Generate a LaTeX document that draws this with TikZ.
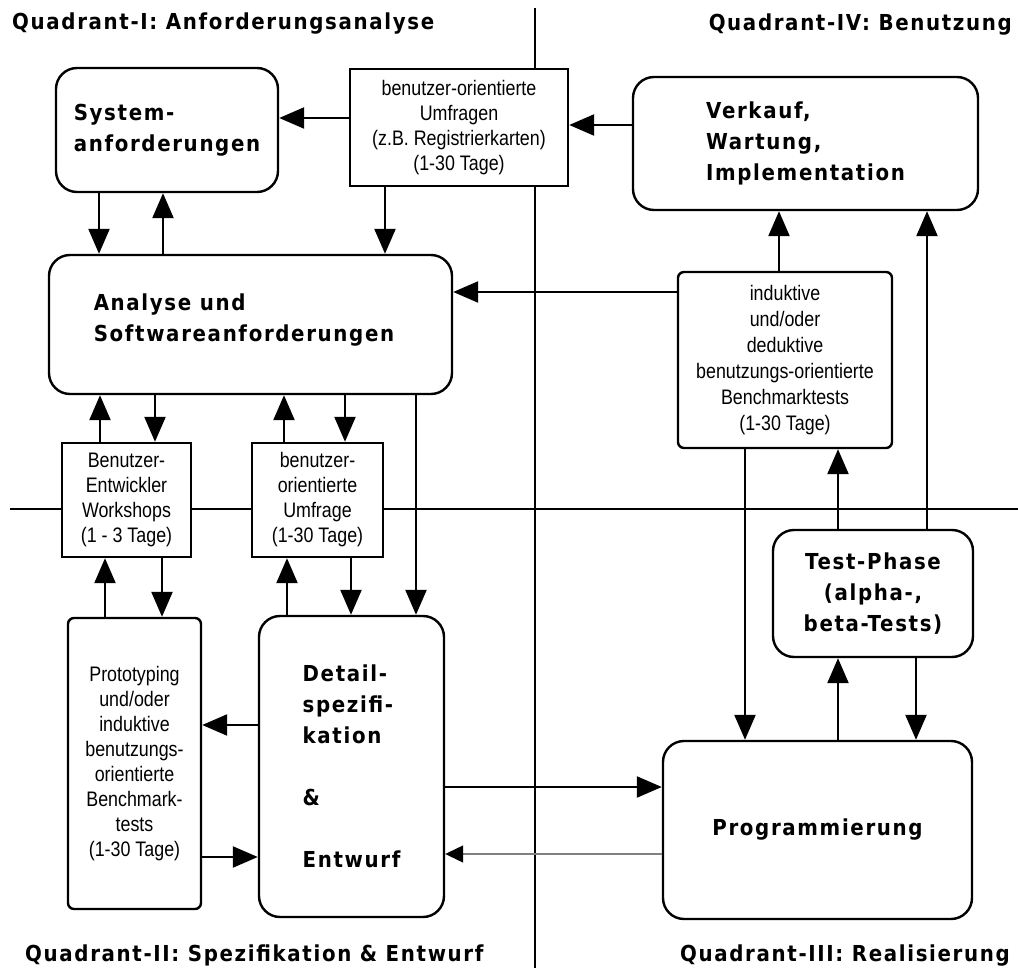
\documentclass[tikz,border=0pt]{standalone}
\usepackage{fontspec}
\setmainfont{Liberation Sans}
\newfontfamily\chic[LetterSpace=7.5,FakeStretch=0.9]{DejaVu Sans}
\newfontfamily\helv[FakeStretch=0.85]{Liberation Sans}
\usetikzlibrary{arrows.meta}
\tikzset{
  box/.style={draw, line width=2.4pt, fill=white, inner sep=0pt},
  rbox/.style={box, rounded corners=21pt},
  sbox/.style={box, rounded corners=6pt},
  btxt/.style={font=\chic\bfseries\fontsize{22}{31}\selectfont, align=left},
  stxt/.style={font=\helv\fontsize{21}{25}\selectfont, align=center},
  qtitle/.style={font=\chic\bfseries\fontsize{22}{31}\selectfont, inner sep=0pt},
  arr/.style={line width=2.4pt, -{Triangle[length=25pt,width=21pt]}},
  garr/.style={line width=1.2pt, draw=gray, -{Triangle[length=18pt,width=17pt,black]}},
  divider/.style={line width=2.4pt},
}
\begin{document}
\begin{tikzpicture}[x=1pt,y=-1pt]
\useasboundingbox (0,0) rectangle (1018,968);
\fill[white] (0,0) rectangle (1018,968);
% quadrant dividers
\draw[divider] (535,8) -- (535,968);
\draw[divider] (10,509) -- (1018,509);
% titles
\node[qtitle, anchor=base west] (q1) at (12,30) {Quadrant-I: Anforderungsanalyse};
\node[qtitle, anchor=base east] (q4) at (1012,31) {Quadrant-IV: Benutzung};
\node[qtitle, anchor=base west] (q2) at (25,961) {Quadrant-II: Spezifikation \& Entwurf};
\node[qtitle, anchor=base east] (q3) at (1010,961) {Quadrant-III: Realisierung};
% boxes
\node[rbox, btxt, minimum width=222pt, minimum height=124pt] (sys) at (167,130) {System-\\anforderungen};
\node[box, stxt, minimum width=218pt, minimum height=117pt] (umf) at (459,127.5) {benutzer-orientierte\\Umfragen\\(z.B. Registrierkarten)\\(1-30 Tage)};
\node[rbox, btxt, minimum width=345pt, minimum height=133pt] (verk) at (805.5,143.5) {Verkauf,\\Wartung,\\Implementation};
\node[rbox, minimum width=403pt, minimum height=139pt] (ana) at (250.5,324.5) {};
\node[btxt, inner sep=0pt] (anat) at (244,320) {Analyse und\\Softwareanforderungen};
\node[sbox, stxt, font=\helv\fontsize{21}{26}\selectfont, minimum width=214pt, minimum height=176pt] (ind) at (785,360) {induktive\\und/oder\\deduktive\\benutzungs-orientierte\\Benchmarktests\\(1-30 Tage)};
\node[box, stxt, minimum width=129pt, minimum height=114pt] (bew) at (126.5,500) {Benutzer-\\Entwickler\\Workshops\\(1 - 3 Tage)};
\node[box, stxt, minimum width=131pt, minimum height=114pt] (bou) at (317.5,500) {benutzer-\\orientierte\\Umfrage\\(1-30 Tage)};
\node[sbox, stxt, minimum width=133pt, minimum height=291pt] (proto) at (134.5,763.5) {Prototyping\\und/oder\\induktive\\benutzungs-\\orientierte\\Benchmark-\\tests\\(1-30 Tage)};
\node[rbox, btxt, minimum width=185pt, minimum height=301pt] (det) at (351.5,766.5) {Detail-\\spezifi-\\kation\\[31pt]\&\\[31pt]Entwurf};
\node[rbox, btxt, align=center, minimum width=200pt, minimum height=127pt] (test) at (873,593.5) {Test-Phase\\(alpha-,\\beta-Tests)};
\node[rbox, btxt, minimum width=309pt, minimum height=178pt] (prog) at (817.5,830) {Programmierung};
% connectors
\draw[arr] (umf.west |- 0,118) -- (sys.east |- 0,118);
\draw[arr] (verk.west |- 0,125) -- (umf.east |- 0,125);
\draw[arr] (sys.south -| 99,0) -- (ana.north -| 99,0);
\draw[arr] (ana.north -| 163,0) -- (sys.south -| 163,0);
\draw[arr] (umf.south -| 385,0) -- (ana.north -| 385,0);
\draw[arr] (ind.west |- 0,292) -- (ana.east |- 0,292);
\draw[arr] (ind.north -| 779,0) -- (verk.south -| 779,0);
\draw[arr] (test.north -| 927,0) -- (verk.south -| 927,0);
\draw[arr] (test.north -| 838,0) -- (ind.south -| 838,0);
\draw[arr] (ind.south -| 745,0) -- (prog.north -| 745,0);
\draw[arr] (prog.north -| 838,0) -- (test.south -| 838,0);
\draw[arr] (test.south -| 916,0) -- (prog.north -| 916,0);
\draw[arr] (bew.north -| 100,0) -- (ana.south -| 100,0);
\draw[arr] (ana.south -| 155,0) -- (bew.north -| 155,0);
\draw[arr] (bou.north -| 284,0) -- (ana.south -| 284,0);
\draw[arr] (ana.south -| 345,0) -- (bou.north -| 345,0);
\draw[arr] (ana.south -| 416,0) -- (det.north -| 416,0);
\draw[arr] (proto.north -| 105,0) -- (bew.south -| 105,0);
\draw[arr] (bew.south -| 162,0) -- (proto.north -| 162,0);
\draw[arr] (det.north -| 287,0) -- (bou.south -| 287,0);
\draw[arr] (bou.south -| 351,0) -- (det.north -| 351,0);
\draw[arr] (det.west |- 0,725) -- (proto.east |- 0,725);
\draw[arr] (proto.east |- 0,857) -- (det.west |- 0,857);
\draw[arr] (det.east |- 0,787) -- (prog.west |- 0,787);
\draw[garr] (prog.west |- 0,854) -- (det.east |- 0,854);
\end{tikzpicture}
\end{document}
